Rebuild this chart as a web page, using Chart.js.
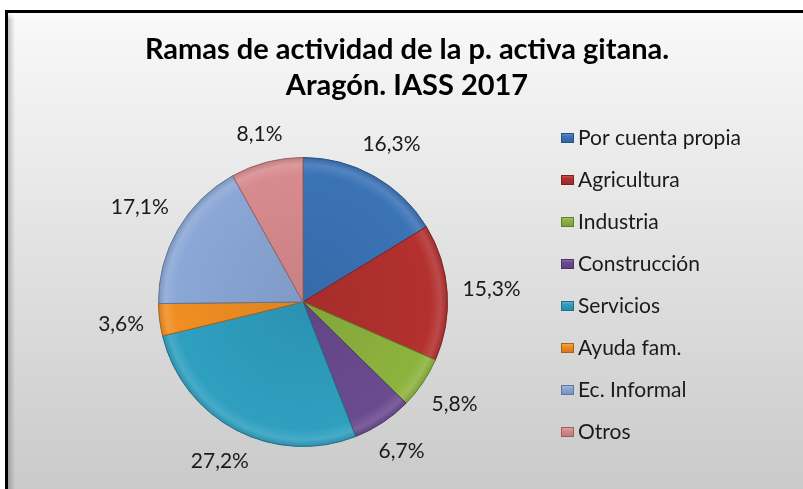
<!DOCTYPE html>
<html>
<head>
<meta charset="utf-8">
<script src="https://cdn.jsdelivr.net/npm/chart.js@4/dist/chart.umd.min.js"></script>
<style>
html,body{margin:0;padding:0;background:#fff;}
canvas{display:block;}
</style>
</head>
<body>
<canvas id="c" width="803" height="489"></canvas>
<script>
const titleLines = ["Ramas de actividad de la p. activa gitana.", "Aragón. IASS 2017"];
const categories = ["Por cuenta propia", "Agricultura", "Industria", "Construcción", "Servicios", "Ayuda fam.", "Ec. Informal", "Otros"];
const values = [16.3, 15.3, 5.8, 6.7, 27.2, 3.6, 17.1, 8.1];
const colors = ["#3b73b7", "#b3312f", "#8db33e", "#6a4b90", "#2f9fc0", "#f08e22", "#8aa7d6", "#d88b8e"];

function shade(hex, amt) {
  const n = parseInt(hex.slice(1), 16);
  let r = (n >> 16) & 255, g = (n >> 8) & 255, b = n & 255;
  const f = c => amt >= 0 ? Math.round(c + (255 - c) * amt) : Math.round(c * (1 + amt));
  return `rgb(${f(r)},${f(g)},${f(b)})`;
}

const FONT = "Lato, 'Open Sans', sans-serif";

const decor = {
  id: 'decor',
  beforeDraw(chart) {
    const ctx = chart.ctx;
    const W = chart.width, H = chart.height;
    ctx.save();
    ctx.fillStyle = '#ffffff';
    ctx.fillRect(0, 0, W, H);
    const g = ctx.createLinearGradient(0, 12, 0, H);
    g.addColorStop(0, '#f9f9f9');
    g.addColorStop(1, '#cacaca');
    ctx.fillStyle = g;
    ctx.fillRect(7, 12, W, H);
    const gl = ctx.createLinearGradient(8, 0, 15, 0);
    gl.addColorStop(0, 'rgba(0,0,0,0.22)');
    gl.addColorStop(1, 'rgba(0,0,0,0)');
    ctx.fillStyle = gl;
    ctx.fillRect(8, 13, 8, H);
    const gt = ctx.createLinearGradient(0, 13, 0, 20);
    gt.addColorStop(0, 'rgba(255,255,255,0.9)');
    gt.addColorStop(1, 'rgba(255,255,255,0)');
    ctx.fillStyle = gt;
    ctx.fillRect(8, 13, W, 7);
    ctx.strokeStyle = '#000';
    ctx.lineWidth = 3;
    ctx.strokeRect(6.5, 11.5, W + 10, H + 10);
    ctx.restore();
  },
  afterDraw(chart) {
    const ctx = chart.ctx;
    ctx.save();
    // title
    ctx.fillStyle = '#000';
    ctx.textAlign = 'center';
    ctx.textBaseline = 'alphabetic';
    ctx.font = `bold 29px ${FONT}`;
    ctx.fillText(titleLines[0], 407, 59);
    ctx.fillText(titleLines[1], 407, 95);

    // percent labels
    const meta = chart.getDatasetMeta(0);
    ctx.font = `21px ${FONT}`;
    ctx.fillStyle = '#1a1a1a';
    ctx.textAlign = 'center';
    ctx.textBaseline = 'middle';
    meta.data.forEach((arc, i) => {
      const p = arc.getProps(['x', 'y', 'startAngle', 'endAngle', 'outerRadius'], true);
      const mid = (p.startAngle + p.endAngle) / 2;
      const dx = Math.cos(mid), dy = Math.sin(mid);
      const txt = values[i].toFixed(1).replace('.', ',') + '%';
      const w = ctx.measureText(txt).width;
      const h = 16;
      const proj = Math.abs(dx) * w / 2 + Math.abs(dy) * h / 2;
      const d = p.outerRadius + 15 + proj;
      ctx.fillText(txt, p.x + dx * d, p.y + dy * d);
    });

    // legend
    ctx.textAlign = 'left';
    ctx.textBaseline = 'middle';
    ctx.font = `21px ${FONT}`;
    categories.forEach((name, i) => {
      const y = 138 + i * 42;
      const bx = 561, by = y - 5, bw = 13, bh = 10;
      const lg = ctx.createLinearGradient(0, by, 0, by + bh);
      lg.addColorStop(0, shade(colors[i], 0.25));
      lg.addColorStop(0.35, colors[i]);
      lg.addColorStop(1, shade(colors[i], -0.15));
      ctx.fillStyle = lg;
      ctx.fillRect(bx, by, bw, bh);
      ctx.strokeStyle = shade(colors[i], -0.3);
      ctx.lineWidth = 1;
      ctx.strokeRect(bx + 0.5, by + 0.5, bw - 1, bh - 1);
      ctx.fillStyle = '#1a1a1a';
      ctx.fillText(name, 578, y);
    });
    ctx.restore();
  }
};

new Chart(document.getElementById('c'), {
  type: 'pie',
  data: {
    labels: categories,
    datasets: [{
      data: values,
      backgroundColor: (c) => {
        const base = colors[c.dataIndex];
        const chart = c.chart;
        const a = chart.chartArea;
        if (!a) return base;
        const cx = (a.left + a.right) / 2, cy = (a.top + a.bottom) / 2;
        const r = Math.min(a.width, a.height) / 2;
        const g = chart.ctx.createRadialGradient(cx, cy, 0, cx, cy, r);
        g.addColorStop(0, shade(base, -0.08));
        g.addColorStop(0.88, base);
        g.addColorStop(0.95, shade(base, 0.12));
        g.addColorStop(1, shade(base, -0.12));
        return g;
      },
      borderColor: (c) => shade(colors[c.dataIndex], -0.3),
      borderWidth: 1
    }]
  },
  options: {
    responsive: false,
    animation: false,
    layout: { padding: { left: 158, top: 157, right: 355, bottom: 42 } },
    plugins: {
      legend: { display: false },
      title: { display: false },
      tooltip: { enabled: false }
    }
  },
  plugins: [decor]
});
</script>
</body>
</html>
